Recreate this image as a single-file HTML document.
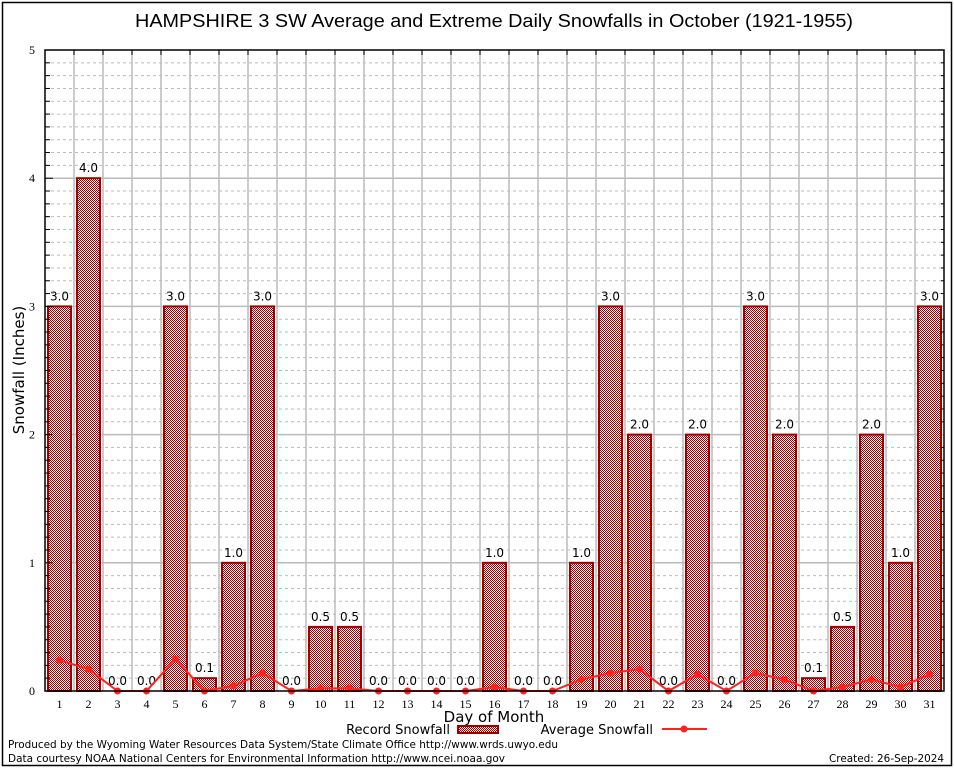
<!DOCTYPE html>
<html><head><meta charset="utf-8"><style>
body{margin:0;background:#fff}
svg{display:block;font-family:"DejaVu Sans","Liberation Sans",sans-serif}
</style></head><body>
<svg id="chart" width="954" height="768" viewBox="0 0 954 768">
<defs>
<pattern id="chk" width="2" height="2" patternUnits="userSpaceOnUse">
<rect width="2" height="2" fill="#fff"/><rect width="1" height="1" fill="#a00000"/><rect x="1" y="1" width="1" height="1" fill="#a00000"/>
</pattern>
</defs>
<rect x="2.5" y="2.5" width="949" height="763" fill="none" stroke="#000" stroke-width="1.5"/>
<text x="494" y="27" font-size="18" text-anchor="middle" textLength="718" lengthAdjust="spacingAndGlyphs" font-family="Liberation Sans, sans-serif">HAMPSHIRE 3 SW Average and Extreme Daily Snowfalls in October (1921-1955)</text>
<g id="grid"></g>
<g id="bars"></g>
<g id="line"></g>
<g id="axes"></g>
<text x="24" y="370" font-size="15" text-anchor="middle" transform="rotate(-90 24 370)">Snowfall (Inches)</text>
<text x="494" y="722" font-size="15" text-anchor="middle">Day of Month</text>
<g>
<text x="450" y="734" font-size="13" text-anchor="end">Record Snowfall</text>
<rect x="458" y="726" width="40" height="7" fill="url(#chk)" stroke="#a00000" stroke-width="2"/>
<text x="653" y="734" font-size="13" text-anchor="end">Average Snowfall</text>
<line x1="662" y1="729" x2="707" y2="729" stroke="#ff2020" stroke-width="2"/>
<circle cx="684" cy="729" r="3.5" fill="#ff2020"/>
</g>
<text x="8" y="748" font-size="11" textLength="550" lengthAdjust="spacingAndGlyphs">Produced by the Wyoming Water Resources Data System/State Climate Office http://www.wrds.uwyo.edu</text>
<text x="8" y="762" font-size="11" textLength="497" lengthAdjust="spacingAndGlyphs">Data courtesy NOAA National Centers for Environmental Information http://www.ncei.noaa.gov</text>
<text x="944" y="762" font-size="11" text-anchor="end" textLength="115" lengthAdjust="spacingAndGlyphs">Created: 26-Sep-2024</text>
</svg>
<script>
const days = [1,2,3,4,5,6,7,8,9,10,11,12,13,14,15,16,17,18,19,20,21,22,23,24,25,26,27,28,29,30,31];
const recordValues = [3,4,0,0,3,0.1,1,3,0,0.5,0.5,0,0,0,0,1,0,0,1,3,2,0,2,0,3,2,0.1,0.5,2,1,3];
const averageValues = [0.24,0.17,0,0,0.25,0,0.04,0.14,0,0.02,0.02,0,0,0,0,0.03,0,0,0.09,0.14,0.17,0,0.13,0,0.14,0.09,0,0.03,0.09,0.03,0.13];
const yTicks = [0,1,2,3,4,5];

const NS='http://www.w3.org/2000/svg';
const L=45,R=944,T=50,B=691,YMAX=5;
const dw=(R-L)/days.length;
function xs(d){return L+(d-0.5)*dw;}
function ys(v){return B-(v/YMAX)*(B-T);}
function mk(tag,attrs,parent){const e=document.createElementNS(NS,tag);for(const k in attrs)e.setAttribute(k,attrs[k]);parent.appendChild(e);return e;}
const grid=document.getElementById('grid'),bars=document.getElementById('bars'),line=document.getElementById('line'),axes=document.getElementById('axes');

for(let i=1;i<YMAX*10;i++){
  if(i%10===0)continue;
  const y=ys(i/10);
  const g=mk('line',{x1:L,x2:R,y1:y,y2:y,stroke:'#bbb','stroke-dasharray':'3,3','stroke-width':1},grid);
  
  
  const t=mk('line',{x1:L,x2:L+5,y1:y,y2:y,stroke:'#000'},axes);
  
  
  const t2=mk('line',{x1:R-3,x2:R,y1:y,y2:y,stroke:'#000'},axes);
  
  
}
yTicks.forEach(v=>{
  const y=ys(v);
  if(v>0&&v<YMAX){
    const g=mk('line',{x1:L,x2:R,y1:y,y2:y,stroke:'#bbb','stroke-width':1.5},grid);
    
    
  }
  const t=mk('line',{x1:L,x2:L+8,y1:y,y2:y,stroke:'#000'},axes);
  
  
  const lb=mk('text',{x:L-10,y:y+4,'font-size':12,'text-anchor':'end','font-family':'Liberation Serif, serif'},axes);
  lb.textContent=v;
  
  
});
for(let i=1;i<days.length;i++){
  const x=L+i*dw;
  const g=mk('line',{x1:x,x2:x,y1:T,y2:B,stroke:'#bbb','stroke-width':1.5},grid);
  
  
  const t=mk('line',{x1:x,x2:x,y1:T,y2:T+5,stroke:'#000'},axes);
  
  
}
days.forEach((d,i)=>{
  const x=xs(d),v=recordValues[i],y=ys(v);
  const r=mk('rect',{x:x-11.5,y:y,width:23,height:B-y,fill:'url(#chk)',stroke:'#a00000','stroke-width':2},bars);
  
  
  const lb=mk('text',{x:x,y:y-6,'font-size':12,'text-anchor':'middle'},bars);
  lb.textContent=v.toFixed(1);
  
  
  const xl=mk('text',{x:x,y:B+17,'font-size':12,'text-anchor':'middle','font-family':'Liberation Serif, serif'},axes);
  xl.textContent=d;
  
  
});
const pts=days.map((d,i)=>xs(d)+','+ys(averageValues[i])).join(' ');
const pl=mk('polyline',{points:pts,fill:'none',stroke:'#ff2020','stroke-width':2},line);


days.forEach((d,i)=>{
  const c=mk('circle',{cx:xs(d),cy:ys(averageValues[i]),r:3.5,fill:'#ff2020'},line);
  
  
});
const fr=mk('rect',{x:L,y:T,width:R-L,height:B-T,fill:'none',stroke:'#000','stroke-width':1.5},axes);


</script>
</body></html>
